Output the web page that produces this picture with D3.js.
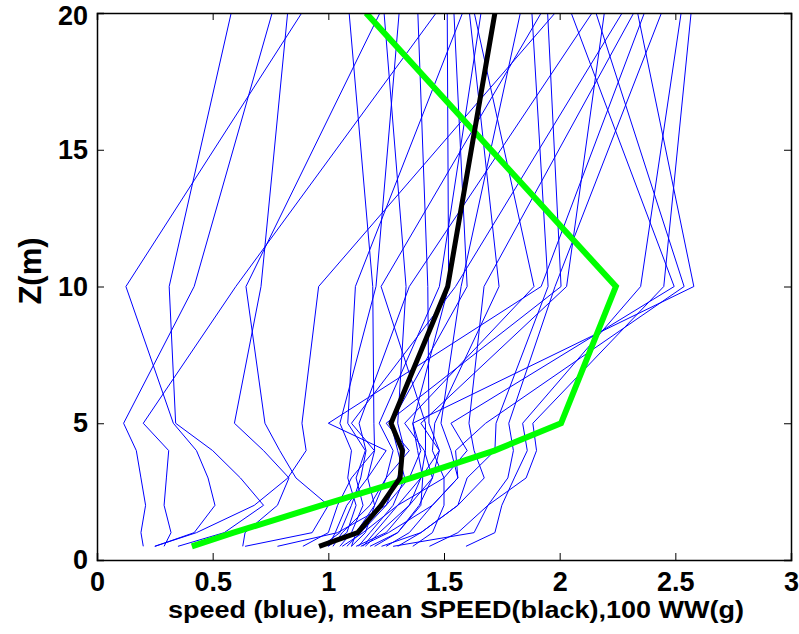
<!DOCTYPE html>
<html>
<head>
<meta charset="utf-8">
<script src="https://cdn.jsdelivr.net/npm/d3@7"></script>
<style>
  body { margin: 0; background: #fff; }
  svg { display: block; }
  .tick text { font-family: "Liberation Sans", Arial, sans-serif; font-weight: bold; }
</style>
</head>
<body>
<div id="chart"></div>
<script>
// heights (m) where each profile was sampled
const levels = [0.5, 1, 2, 3, 4, 5, 10, 20];

// individual speed profiles (blue), one value per level
const profiles = [
  [0.20, 0.19, 0.21, 0.19, 0.17, 0.115, 0.42, 0.757],
  [0.29, 0.32, 0.29, 0.30, 0.31, 0.20, 0.60, 1.466],
  [0.25, 0.42, 0.51, 0.48, 0.43, 0.33, 0.125, 0.885],
  [0.35, 0.55, 0.72, 0.62, 0.50, 0.34, 0.312, 0.58],
  [0.63, 0.64, 0.78, 0.83, 0.72, 0.594, 0.709, 0.824],
  [0.64, 0.93, 1.00, 0.86, 0.79, 0.726, 0.644, 1.223],
  [0.25, 0.43, 0.68, 0.825, 0.904, 0.886, 0.958, 1.98],
  [1.05, 1.10, 1.15, 1.12, 1.16, 1.084, 1.117, 1.58],
  [1.10, 1.12, 1.20, 1.17, 1.20, 1.197, 1.192, 1.09],
  [1.00, 1.08, 1.12, 1.084, 1.10, 1.05, 1.206, 1.306],
  [1.15, 1.20, 1.30, 1.40, 1.42, 1.42, 1.228, 1.92],
  [1.08, 1.14, 1.25, 1.30, 1.33, 1.30, 1.336, 1.241],
  [0.97, 1.05, 1.10, 1.14, 1.163, 1.133, 1.35, 2.14],
  [1.12, 1.25, 1.35, 1.45, 1.48, 1.435, 1.43, 1.387],
  [1.02, 1.06, 1.18, 1.25, 1.28, 1.22, 1.48, 1.66],
  [1.20, 1.30, 1.40, 1.408, 1.386, 1.365, 1.52, 1.514],
  [0.89, 1.00, 1.04, 1.10, 1.199, 1.10, 1.55, 2.27],
  [1.25, 1.35, 1.45, 1.56, 1.53, 1.487, 1.574, 1.83],
  [1.13, 1.18, 1.28, 1.33, 1.30, 1.27, 1.60, 1.543],
  [1.30, 1.40, 1.56, 1.674, 1.63, 1.608, 1.673, 2.32],
  [1.365, 1.45, 1.50, 1.50, 1.45, 1.46, 1.738, 1.61],
  [1.18, 1.30, 1.393, 1.45, 1.415, 1.33, 1.889, 1.631],
  [1.00, 1.03, 1.08, 1.17, 1.25, 1.00, 1.92, 2.366],
  [1.23, 1.40, 1.56, 1.60, 1.72, 1.725, 1.95, 1.88],
  [1.437, 1.56, 1.69, 1.776, 1.80, 1.78, 1.98, 2.44],
  [1.10, 1.16, 1.20, 1.25, 1.35, 1.25, 2.006, 1.948],
  [1.16, 1.22, 1.35, 1.40, 1.48, 1.40, 2.03, 2.193],
  [1.595, 1.72, 1.75, 1.804, 1.86, 1.84, 2.35, 2.525],
  [1.28, 1.63, 1.69, 1.855, 1.90, 1.884, 2.45, 2.568],
  [1.06, 1.15, 1.30, 1.50, 1.60, 1.53, 2.495, 2.05],
  [1.14, 1.26, 1.45, 1.56, 1.55, 1.68, 2.538, 2.157],
  [0.78, 1.04, 1.25, 1.35, 1.40, 1.365, 2.58, 2.337]
];

// mean speed (black) and 100*WW (green)
const meanSpeed = [0.96, 1.127, 1.228, 1.31, 1.32, 1.271, 1.516, 1.72];
const ww100 = [0.41, 0.59, 0.97, 1.36, 1.718, 2.006, 2.243, 1.163];

const xTicks = [0, 0.5, 1, 1.5, 2, 2.5, 3];
const yTicks = [0, 5, 10, 15, 20];

const width = 799, height = 634;
const margin = { top: 13, right: 8, bottom: 74, left: 97 };
const iw = width - margin.left - margin.right;
const ih = height - margin.top - margin.bottom;

const svg = d3.select("#chart").append("svg")
  .attr("width", width)
  .attr("height", height);

const g = svg.append("g").attr("transform", `translate(${margin.left},${margin.top})`);

const x = d3.scaleLinear().domain([0, 3]).range([0, iw]);
const y = d3.scaleLinear().domain([0, 20]).range([ih, 0]);

g.append("defs").append("clipPath").attr("id", "clip")
  .append("rect").attr("width", iw).attr("height", ih);

const line = d3.line()
  .x(d => x(d[0]))
  .y(d => y(d[1]));

const plot = g.append("g").attr("clip-path", "url(#clip)");

// blue profiles
plot.selectAll(".profile")
  .data(profiles)
  .join("path")
  .attr("class", "profile")
  .attr("d", p => line(p.map((v, i) => [v, levels[i]])))
  .attr("fill", "none")
  .attr("stroke", "#0000ff")
  .attr("stroke-width", 1);

// green 100 WW
plot.append("path")
  .attr("d", line(ww100.map((v, i) => [v, levels[i]])))
  .attr("fill", "none")
  .attr("stroke", "#00ff00")
  .attr("stroke-width", 6)
  .attr("stroke-linejoin", "miter");

// black mean
plot.append("path")
  .attr("d", line(meanSpeed.map((v, i) => [v, levels[i]])))
  .attr("fill", "none")
  .attr("stroke", "#000")
  .attr("stroke-width", 5)
  .attr("stroke-linejoin", "miter");

// axes, ticks pointing inward like MATLAB
const tickLen = 7;
const xAxis = g.append("g")
  .attr("transform", `translate(0,${ih})`)
  .call(d3.axisBottom(x).tickValues(xTicks).tickSize(-tickLen).tickPadding(12).tickFormat(d3.format("")));
const yAxis = g.append("g")
  .call(d3.axisLeft(y).tickValues(yTicks).tickSize(-tickLen).tickPadding(9).tickFormat(d3.format("")));
const xTop = g.append("g")
  .call(d3.axisTop(x).tickValues(xTicks).tickSize(-tickLen).tickFormat(""));
const yRight = g.append("g")
  .attr("transform", `translate(${iw},0)`)
  .call(d3.axisRight(y).tickValues(yTicks).tickSize(-tickLen).tickFormat(""));

[xAxis, yAxis, xTop, yRight].forEach(a => {
  a.select(".domain").attr("stroke", "#000").attr("stroke-width", 1.5);
  a.selectAll(".tick line").attr("stroke", "#000").attr("stroke-width", 1);
});
xAxis.selectAll(".tick text").attr("font-size", 27).attr("fill", "#000").attr("dy", "0.71em");
yAxis.selectAll(".tick text").attr("font-size", 27).attr("fill", "#000")
  .attr("y", d => d === 20 ? 3 : 0);

// axis titles
svg.append("text")
  .attr("x", 456)
  .attr("y", 618)
  .attr("text-anchor", "middle")
  .attr("font-family", "Liberation Sans, Arial, sans-serif")
  .attr("font-weight", "bold")
  .attr("font-size", 23)
  .attr("textLength", 576)
  .attr("lengthAdjust", "spacingAndGlyphs")
  .text("speed (blue), mean SPEED(black),100 WW(g)");

svg.append("text")
  .attr("transform", `translate(41,271) rotate(-90)`)
  .attr("text-anchor", "middle")
  .attr("font-family", "Liberation Sans, Arial, sans-serif")
  .attr("font-weight", "bold")
  .attr("font-size", 31)
  .text("Z(m)");
</script>
</body>
</html>
